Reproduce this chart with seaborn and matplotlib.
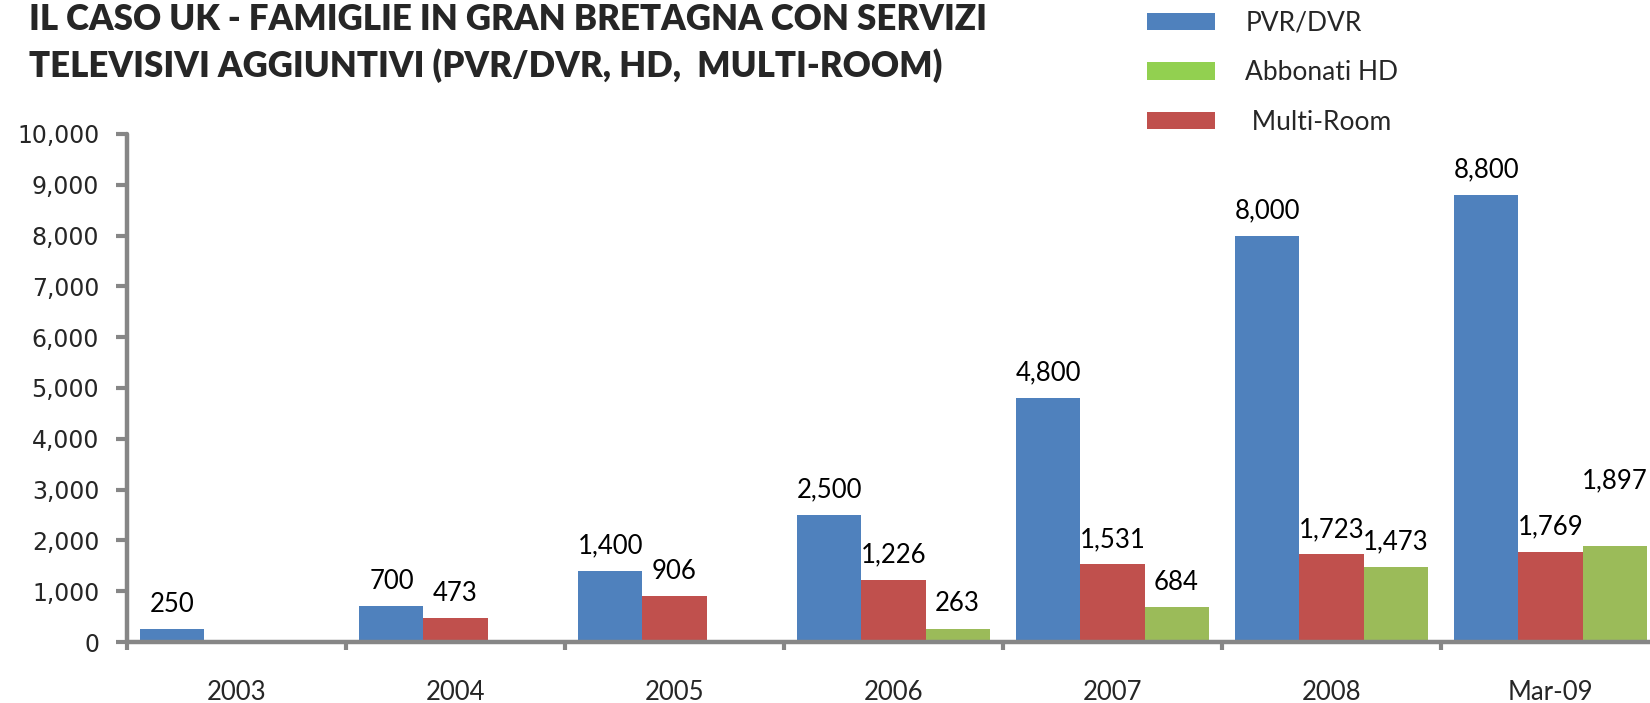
import numpy as np
import pandas as pd
import matplotlib
matplotlib.use('Agg')
import matplotlib.pyplot as plt
from matplotlib.patches import Patch
from matplotlib.ticker import FixedLocator, StrMethodFormatter
import seaborn as sns

categories = ['2003', '2004', '2005', '2006', '2007', '2008', 'Mar-09']
pvr_dvr    = [250, 700, 1400, 2500, 4800, 8000, 8800]
multi_room = [np.nan, 473, 906, 1226, 1531, 1723, 1769]
hd         = [np.nan, np.nan, np.nan, 263, 684, 1473, 1897]

series_names = ['PVR/DVR', 'Multi-Room', 'Abbonati HD']
title_lines = ['IL CASO UK - FAMIGLIE IN GRAN BRETAGNA CON SERVIZI',
               'TELEVISIVI AGGIUNTIVI (PVR/DVR, HD,  MULTI-ROOM)']

COLORS = {
    'PVR/DVR':     '#4F81BD',
    'Multi-Room':  '#C0504D',
    'Abbonati HD': '#9BBB59',
}
LEGEND_COLORS = {
    'PVR/DVR':     '#4F81BD',
    'Abbonati HD': '#92D050',
    'Multi-Room':  '#C0504D',
}

df = pd.DataFrame({'anno': categories,
                   'PVR/DVR': pvr_dvr,
                   'Multi-Room': multi_room,
                   'Abbonati HD': hd})
df = df.melt(id_vars='anno', var_name='servizio', value_name='valore').dropna()

sns.set_style('white')
plt.rcParams['font.family'] = ['Lato', 'DejaVu Sans']

AXIS_GREY = '#868686'

fig = plt.figure(figsize=(16.5, 7.03), dpi=100)
ax = fig.add_axes([127 / 1650, 1 - 642 / 703, 7 * 219 / 1650, (642 - 134) / 703])

sns.barplot(data=df, x='anno', y='valore', hue='servizio',
            order=categories, hue_order=series_names,
            palette=[COLORS[s] for s in series_names],
            width=0.877, saturation=1, errorbar=None, linewidth=0,
            legend=False, ax=ax)

ax.set_xlim(-0.5, len(categories) - 0.5)
ax.set_ylim(0, 10000)
ax.set_xlabel('')
ax.set_ylabel('')
ax.grid(False)

for side in ['top', 'right']:
    ax.spines[side].set_visible(False)
for side in ['left', 'bottom']:
    ax.spines[side].set_color(AXIS_GREY)
    ax.spines[side].set_linewidth(3.2)
    ax.spines[side].set_capstyle('round')

ax.set_yticks(np.arange(0, 10001, 1000))
ax.yaxis.set_major_formatter(StrMethodFormatter('{x:,.0f}'))
ax.tick_params(axis='y', which='major', direction='out', length=8, width=3,
               color=AXIS_GREY, pad=12, labelsize=17, left=True)
for lbl in ax.get_yticklabels():
    lbl.set_fontfamily('DejaVu Sans')

ax.set_xticks(range(len(categories)))
ax.set_xticklabels(categories)
ax.tick_params(axis='x', which='major', length=0, pad=27.5, labelsize=18.5)
ax.xaxis.set_minor_locator(FixedLocator(np.arange(-0.5, len(categories), 1)))
ax.tick_params(axis='x', which='minor', direction='out', length=6, width=3,
               color=AXIS_GREY, bottom=True)

# value labels above each bar
for name, container in zip(series_names, ax.containers):
    for bar in container:
        h = bar.get_height()
        if np.isnan(h):
            continue
        xc = bar.get_x() + bar.get_width() / 2
        lift = 12.5
        if name == 'Abbonati HD' and categories[int(round(xc))] == 'Mar-09':
            lift = 41
        ax.annotate(f'{h:,.0f}', (xc, h), xytext=(0, lift),
                    textcoords='offset points', ha='center', va='baseline',
                    fontsize=18.5, color='black', annotation_clip=False)

# title
for i, line in enumerate(title_lines):
    fig.text(29 / 1650, 1 - (30 + 47 * i) / 703, line, fontsize=25, fontweight='heavy',
             ha='left', va='baseline')

# legend
legend_order = ['PVR/DVR', 'Abbonati HD', 'Multi-Room']
handles = [Patch(facecolor=LEGEND_COLORS[n], edgecolor='none') for n in legend_order]
labels = ['PVR/DVR', 'Abbonati HD', ' Multi-Room']
fig.legend(handles, labels, loc='upper left', bbox_to_anchor=(1147 / 1650, 1 - 11 / 703),
           frameon=False, fontsize=19, handlelength=2.58, handleheight=0.64,
           handletextpad=1.15, labelspacing=0.92, borderaxespad=0, borderpad=0)

fig.savefig('out.png', dpi=100)
